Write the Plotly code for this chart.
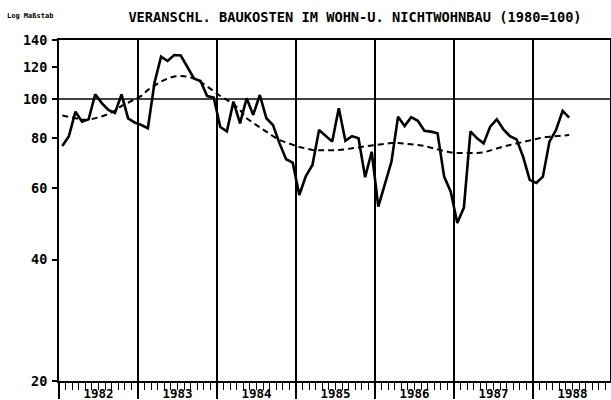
import plotly.graph_objects as go

# Monthly observations Jan 1982 .. Jun 1988
start_year = 1982
n_months = 78
month_pos = [start_year + (k + 0.5) / 12 for k in range(n_months)]

baukosten = [
    76.5, 80.9, 93.0, 87.8, 89.0, 102.7, 97.7, 93.9, 92.3, 102.6, 89.5, 87.4,   # 1982
    86.2, 84.6, 109.5, 127.3, 124.2, 128.5, 128.1, 120.0, 112.4, 110.8, 101.7, 100.8,  # 1983
    85.2, 83.1, 98.5, 87.0, 100.4, 91.3, 102.3, 89.6, 86.2, 77.6, 70.9, 69.5,  # 1984
    57.8, 64.4, 68.6, 83.8, 80.9, 78.4, 94.8, 78.8, 80.9, 79.9, 64.0, 74.0,    # 1985
    54.1, 61.6, 69.9, 90.4, 85.7, 90.1, 88.3, 83.4, 83.0, 82.2, 64.2, 58.9,    # 1986
    49.3, 53.8, 83.1, 79.9, 77.6, 85.4, 89.0, 84.1, 80.9, 79.4, 71.9, 63.0,    # 1987
    61.9, 64.2, 78.4, 83.8, 93.4, 89.9,                                        # 1988
]

trend = [
    91.0, 90.2, 89.5, 88.9, 88.7, 89.5, 90.5, 91.8, 93.6, 96.1, 98.0, 99.7,
    101.7, 105.3, 107.7, 110.5, 112.4, 113.7, 114.0, 113.7, 112.4, 110.2, 107.4, 104.4,
    101.7, 99.4, 97.2, 93.9, 89.6, 87.2, 85.0, 82.8, 80.9, 79.1, 78.0, 76.9,
    76.0, 75.4, 74.7, 74.6, 74.5, 74.6, 74.7, 75.0, 75.5, 75.8, 76.3, 76.7,
    77.0, 77.3, 77.8, 77.8, 77.6, 77.3, 76.9, 76.5, 75.6, 75.0, 74.3, 73.7,
    73.5, 73.4, 73.4, 73.5, 73.7, 74.6, 75.4, 76.2, 76.9, 77.6, 78.3, 78.9,
    79.6, 80.3, 80.6, 80.9, 81.1, 81.4,
]

year_bounds = [1982, 1983, 1984, 1985, 1986, 1987, 1988]
year_labels = ["1982", "1983", "1984", "1985", "1986", "1987", "1988"]
year_mids = [y + 0.5 for y in year_bounds]
y_ticks = [20, 40, 60, 80, 100, 120, 140]

title_text = "VERANSCHL. BAUKOSTEN IM WOHN-U. NICHTWOHNBAU (1980=100)"
scale_note = "Log Maßstab"

FONT = "DejaVu Sans Mono"
x_range = [1982, 1982 + 551 / 79.0]

fig = go.Figure()
fig.add_trace(go.Scatter(x=month_pos, y=trend, mode="lines",
                         line=dict(color="black", width=2, dash="6px,4px"),
                         showlegend=False, hoverinfo="skip"))
fig.add_trace(go.Scatter(x=month_pos, y=baukosten, mode="lines",
                         line=dict(color="black", width=2.6),
                         showlegend=False))
# invisible trace so the label axis renders
fig.add_trace(go.Scatter(x=year_mids, y=[50] * len(year_mids), xaxis="x2",
                         mode="markers", marker=dict(opacity=0),
                         showlegend=False, hoverinfo="skip"))

fig.add_hline(y=100, line=dict(color="black", width=1.6))

fig.update_layout(
    width=611, height=400, autosize=False,
    margin=dict(l=59, r=1, t=40, b=19),
    paper_bgcolor="white", plot_bgcolor="white",
    font=dict(family=FONT, color="black"),
    xaxis=dict(
        range=x_range, tickvals=year_bounds, showticklabels=False,
        ticks="outside", ticklen=16, tickwidth=1.8, tickcolor="black",
        showgrid=True, gridcolor="black", gridwidth=1.6,
        showline=True, linecolor="black", linewidth=2, mirror=True,
        zeroline=False, automargin=False,
        minor=dict(dtick=1 / 12, tick0=1982, ticks="outside", ticklen=7,
                   tickwidth=1.4, tickcolor="black", showgrid=False),
    ),
    xaxis2=dict(
        range=x_range, overlaying="x", anchor="y", side="bottom",
        tickvals=year_mids, ticktext=year_labels, ticks="",
        showgrid=False, showline=False, zeroline=False, automargin=False,
        tickfont=dict(family=FONT, size=12.5, weight="bold", color="black"),
        ticklabelstandoff=3,
    ),
    yaxis=dict(
        type="log", range=[1.30103, 2.146128], tickvals=y_ticks,
        ticktext=[str(v) for v in y_ticks],
        ticks="outside", ticklen=5, tickwidth=1.6, tickcolor="black",
        showgrid=False, zeroline=False, automargin=False,
        showline=True, linecolor="black", linewidth=2, mirror=True,
        tickfont=dict(family=FONT, size=13.5, weight="bold", color="black"),
        ticklabelstandoff=2,
    ),
    title=dict(text=title_text, x=355 / 611, xanchor="center",
               xref="container", y=1 - 17 / 400, yref="container",
               yanchor="middle", automargin=False,
               font=dict(family=FONT, size=13.7, weight="bold", color="black")),
    annotations=[dict(text=scale_note, xref="paper", yref="paper",
                      x=-54 / 551, y=1 + 24 / 341,
                      xanchor="left", yanchor="middle", showarrow=False,
                      font=dict(family=FONT, size=7, weight="bold", color="black"))],
)

fig.write_html("out.html", config={"responsive": False, "displayModeBar": False},
               post_script="document.body.style.margin='0px';document.body.style.overflow='hidden';")
